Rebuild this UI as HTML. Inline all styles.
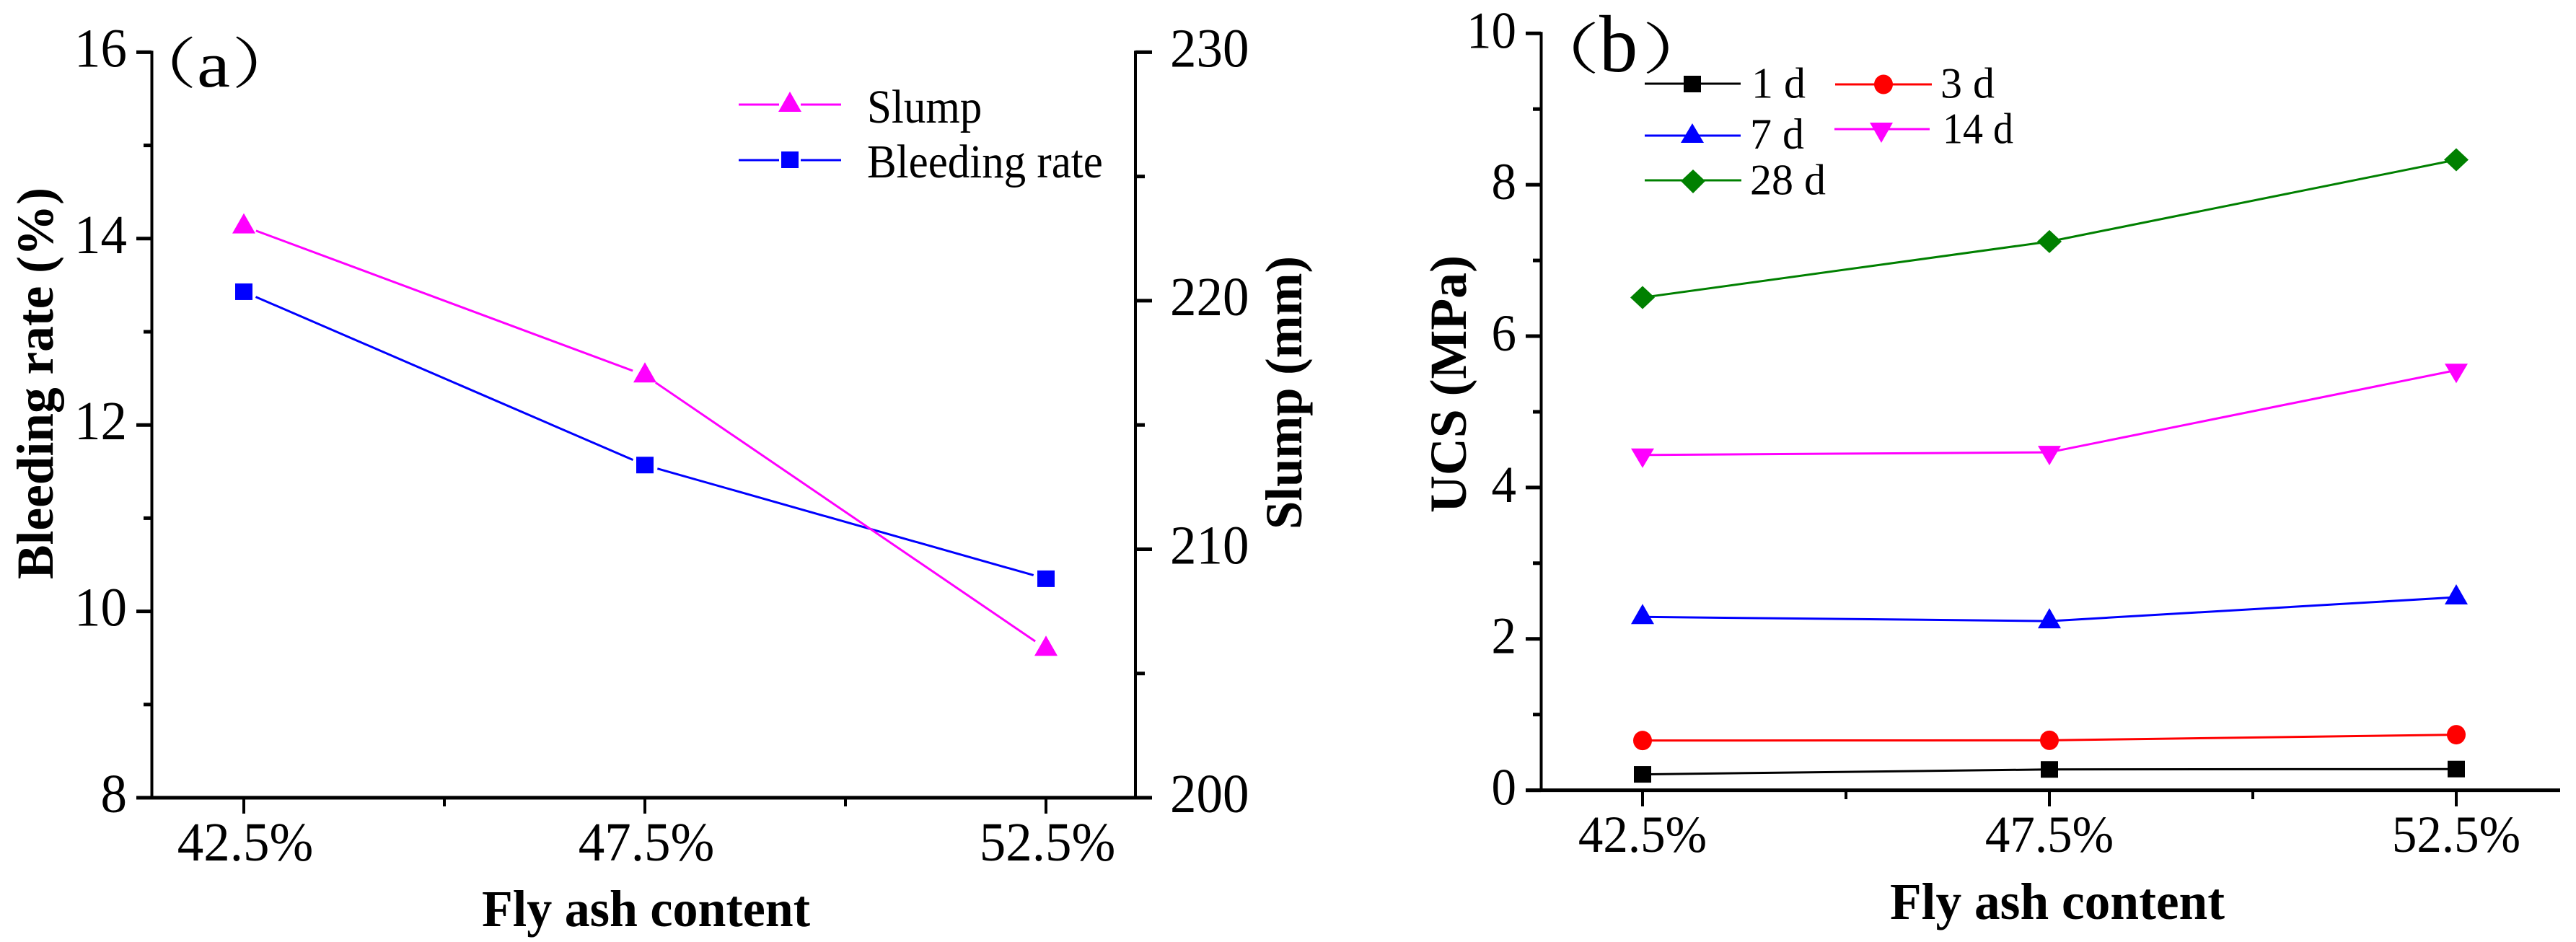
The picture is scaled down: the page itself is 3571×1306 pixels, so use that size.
<!DOCTYPE html>
<html>
<head>
<meta charset="utf-8">
<title>Fly ash content charts</title>
<style>
html,body{margin:0;padding:0;background:#fff;}
svg{display:block;}
text{font-family:"Liberation Serif","Noto Serif CJK SC",serif;fill:#000;}
.title{font-weight:bold;}
</style>
</head>
<body>
<svg id="figure" xmlns="http://www.w3.org/2000/svg" width="3571" height="1306" viewBox="0 0 3571 1306">
  <rect x="0" y="0" width="3571" height="1306" fill="#fff"/>

  <g id="panel-a">
    <g>
      <text font-size="98" transform="translate(175,115.400) scale(1,0.78)">（</text>
      <text font-size="90" transform="translate(273,120) scale(1.15,1)">a</text>
      <text font-size="98" transform="translate(321,115.400) scale(1,0.78)">）</text>
    </g>
    <text class="title" x="73" y="803" font-size="72" textLength="543" lengthAdjust="spacingAndGlyphs" transform="rotate(-90 73 803)">Bleeding rate (%)</text>
    <text class="title" x="1804" y="734" font-size="72" textLength="379" lengthAdjust="spacingAndGlyphs" transform="rotate(-90 1804 734)">Slump (mm)</text>
    <text class="title" x="668" y="1284" font-size="72" textLength="455" lengthAdjust="spacingAndGlyphs">Fly ash content</text>
    <g>
      <g>
        <path d="M1024 145H1080M1110 145H1166" stroke="#ff00ff" stroke-width="3" fill="none"/>
        <polygon points="1095,127 1111,155 1079,155" fill="#ff00ff"/>
        <text font-size="61" transform="translate(1202,170) scale(1,1.07)">Slump</text>
      </g>
      <g>
        <path d="M1024 222H1080M1110 222H1166" stroke="#0000ff" stroke-width="3" fill="none"/>
        <rect x="1083" y="210" width="24" height="23" fill="#0000ff"/>
        <text font-size="61" transform="translate(1202,246) scale(1,1.07)">Bleeding rate</text>
      </g>
    </g>
  </g>

  <g id="panel-b">
    <g>
      <text font-size="105" transform="translate(2113,95.400) scale(1,0.73)">（</text>
      <text font-size="112" transform="translate(2217,99) scale(0.95,1)">b</text>
      <text font-size="105" transform="translate(2276,95.400) scale(1,0.73)">）</text>
    </g>
    <text class="title" x="2032" y="711" font-size="72" textLength="357" lengthAdjust="spacingAndGlyphs" transform="rotate(-90 2032 711)">UCS (MPa)</text>
    <text class="title" x="2620" y="1274" font-size="72" textLength="464" lengthAdjust="spacingAndGlyphs">Fly ash content</text>
    <g>
      <g>
        <line x1="2280" y1="116" x2="2413" y2="116" stroke="#000" stroke-width="3"/>
        <rect x="2334" y="105" width="24" height="23" fill="#000"/>
        <text x="2428" y="135.500" font-size="60">1 d</text>
      </g>
      <g>
        <line x1="2544" y1="117" x2="2678" y2="117" stroke="#ff0000" stroke-width="3"/>
        <ellipse cx="2611" cy="117" rx="13" ry="13.500" fill="#ff0000"/>
        <text x="2690" y="135.500" font-size="60">3 d</text>
      </g>
      <g>
        <line x1="2280" y1="188" x2="2413" y2="188" stroke="#0000ff" stroke-width="3"/>
        <polygon points="2346,171 2362,198 2330,198" fill="#0000ff"/>
        <text x="2426" y="206" font-size="60">7 d</text>
      </g>
      <g>
        <line x1="2543" y1="179" x2="2675" y2="179" stroke="#ff00ff" stroke-width="3"/>
        <polygon points="2592,170 2624,170 2608,198" fill="#ff00ff"/>
        <text x="2693" y="198.500" font-size="60" textLength="98" lengthAdjust="spacingAndGlyphs">14 d</text>
      </g>
      <g>
        <line x1="2280" y1="250" x2="2414" y2="250" stroke="#008000" stroke-width="3"/>
        <polygon points="2347,235 2364,251 2347,268 2330,251" fill="#008000"/>
        <text x="2426" y="269.500" font-size="60">28 d</text>
      </g>
    </g>
  </g>
</svg>

<script>
const categories = ['42.5%', '47.5%', '52.5%'];

const bleedingRate = [13.43, 11.57, 10.35];
const slump = [223.0, 217.0, 206.0];
const leftTicks = [8, 10, 12, 14, 16];
const rightTicks = [200, 210, 220, 230];

const ucs1d = [0.21, 0.275, 0.28];
const ucs3d = [0.657, 0.66, 0.734];
const ucs7d = [2.29, 2.235, 2.55];
const ucs14d = [4.43, 4.465, 5.55];
const ucs28d = [6.51, 7.25, 8.33];
const ucsTicks = [0, 2, 4, 6, 8, 10];

const SVGNS = 'http://www.w3.org/2000/svg';
const panelA = document.getElementById('panel-a');
const panelB = document.getElementById('panel-b');

function xA(i) { return 338 + 556 * i; }
function yLeft(v) { return 1106 - (v - 8) * (1033.6 / 8); }
function yRight(v) { return 1106 - (v - 200) * (1033.6 / 30); }
function xB(i) { return 2277 + 564 * i; }
function yUcs(v) { return 1095.6 - v * 104.93; }

function make(parent, tag, attrs, name) {
  const el = document.createElementNS(SVGNS, tag);
  for (const k in attrs) el.setAttribute(k, attrs[k]);
  
  
  parent.appendChild(el);
  return el;
}

function label(parent, x, y, size, anchor, str, name) {
  const t = make(parent, 'text', {
    transform: 'translate(' + x + ',' + y + ') scale(1,1.04)',
    'font-size': size,
    'text-anchor': anchor
  }, name);
  t.textContent = str;
  return t;
}

function hLine(parent, x1, x2, y, w, name) {
  make(parent, 'line', { x1: x1, x2: x2, y1: y, y2: y, stroke: '#000', 'stroke-width': w }, name);
}

function vLine(parent, x, y1, y2, w, name) {
  make(parent, 'line', { x1: x, x2: x, y1: y1, y2: y2, stroke: '#000', 'stroke-width': w }, name);
}

function marker(parent, shape, cx, cy, color, name) {
  if (shape === 'square') {
    make(parent, 'rect', { x: cx - 12, y: cy - 11.5, width: 24, height: 23, fill: color }, name);
  } else if (shape === 'circle') {
    make(parent, 'ellipse', { cx: cx, cy: cy, rx: 13, ry: 13.5, fill: color }, name);
  } else if (shape === 'up') {
    make(parent, 'polygon', { points: (cx) + ',' + (cy - 18) + ' ' + (cx + 16) + ',' + (cy + 10) + ' ' + (cx - 16) + ',' + (cy + 10), fill: color }, name);
  } else if (shape === 'down') {
    make(parent, 'polygon', { points: (cx - 16) + ',' + (cy - 9) + ' ' + (cx + 16) + ',' + (cy - 9) + ' ' + (cx) + ',' + (cy + 18), fill: color }, name);
  } else {
    make(parent, 'polygon', { points: (cx) + ',' + (cy - 16) + ' ' + (cx + 17) + ',' + (cy) + ' ' + (cx) + ',' + (cy + 16) + ' ' + (cx - 17) + ',' + (cy), fill: color }, name);
  }
}

function series(parent, values, xFn, yFn, color, shape, gap, name) {
  for (let i = 0; i + 1 < values.length; i++) {
    const x1 = xFn(i), y1 = yFn(values[i]), x2 = xFn(i + 1), y2 = yFn(values[i + 1]);
    const len = Math.hypot(x2 - x1, y2 - y1);
    const ux = (x2 - x1) / len, uy = (y2 - y1) / len;
    make(parent, 'line', {
      x1: x1 + ux * gap, y1: y1 + uy * gap,
      x2: x2 - ux * gap, y2: y2 - uy * gap,
      stroke: color, 'stroke-width': 3
    }, name + '-line-' + i);
  }
  values.forEach(function (v, i) {
    marker(parent, shape, xFn(i), yFn(v), color, name + '-point-' + i);
  });
}

/* Panel (a) axes */
vLine(panelA, 210.5, yLeft(16) - 2, yLeft(8), 4, 'left-y-axis');
vLine(panelA, 1574, yRight(230) - 2, yRight(200), 4, 'right-y-axis');
hLine(panelA, 189, 1597, 1106, 5, 'panel-a-x-axis');

leftTicks.forEach(function (v, i) {
  hLine(panelA, 189, 210, yLeft(v), 5, 'left-y-tick-' + v);
  label(panelA, 176, yLeft(v) + 20, 73, 'end', String(v), 'left-y-tick-label-' + v);
  if (i + 1 < leftTicks.length) {
    hLine(panelA, 199, 210, yLeft((v + leftTicks[i + 1]) / 2), 5, 'left-y-minor-tick-' + i);
  }
});

rightTicks.forEach(function (v, i) {
  hLine(panelA, 1574, 1597, yRight(v), 5, 'right-y-tick-' + v);
  label(panelA, 1622, yRight(v) + 20, 73, 'start', String(v), 'right-y-tick-label-' + v);
  if (i + 1 < rightTicks.length) {
    hLine(panelA, 1574, 1587, yRight((v + rightTicks[i + 1]) / 2), 5, 'right-y-minor-tick-' + i);
  }
});

categories.forEach(function (c, i) {
  vLine(panelA, xA(i), 1106, 1128, 4, 'panel-a-x-tick-' + i);
  label(panelA, xA(i) + 2, 1193, 73, 'middle', c, 'panel-a-x-tick-label-' + i);
  if (i + 1 < categories.length) {
    vLine(panelA, xA(i + 0.5), 1106, 1118, 4, 'panel-a-x-minor-tick-' + i);
  }
});

series(panelA, bleedingRate, xA, yLeft, '#0000ff', 'square', 18, 'bleeding-rate');
series(panelA, slump, xA, yRight, '#ff00ff', 'up', 18, 'slump');

/* Panel (b) axes */
vLine(panelB, 2136.5, yUcs(10) - 2, yUcs(0), 4, 'ucs-y-axis');
hLine(panelB, 2115, 3549, 1095.6, 5, 'panel-b-x-axis');

ucsTicks.forEach(function (v, i) {
  hLine(panelB, 2115, 2136, yUcs(v), 5, 'ucs-y-tick-' + v);
  label(panelB, 2102, yUcs(v) + 20, 69, 'end', String(v), 'ucs-y-tick-label-' + v);
  if (i + 1 < ucsTicks.length) {
    hLine(panelB, 2125, 2136, yUcs((v + ucsTicks[i + 1]) / 2), 5, 'ucs-y-minor-tick-' + i);
  }
});

categories.forEach(function (c, i) {
  vLine(panelB, xB(i), 1095.6, 1118, 4, 'panel-b-x-tick-' + i);
  label(panelB, xB(i), 1181, 69, 'middle', c, 'panel-b-x-tick-label-' + i);
  if (i + 1 < categories.length) {
    vLine(panelB, xB(i + 0.5), 1095.6, 1108, 4, 'panel-b-x-minor-tick-' + i);
  }
});

series(panelB, ucs1d, xB, yUcs, '#000000', 'square', 0, 'ucs-1d');
series(panelB, ucs3d, xB, yUcs, '#ff0000', 'circle', 0, 'ucs-3d');
series(panelB, ucs7d, xB, yUcs, '#0000ff', 'up', 0, 'ucs-7d');
series(panelB, ucs14d, xB, yUcs, '#ff00ff', 'down', 0, 'ucs-14d');
series(panelB, ucs28d, xB, yUcs, '#008000', 'diamond', 0, 'ucs-28d');
</script>
</body>
</html>
